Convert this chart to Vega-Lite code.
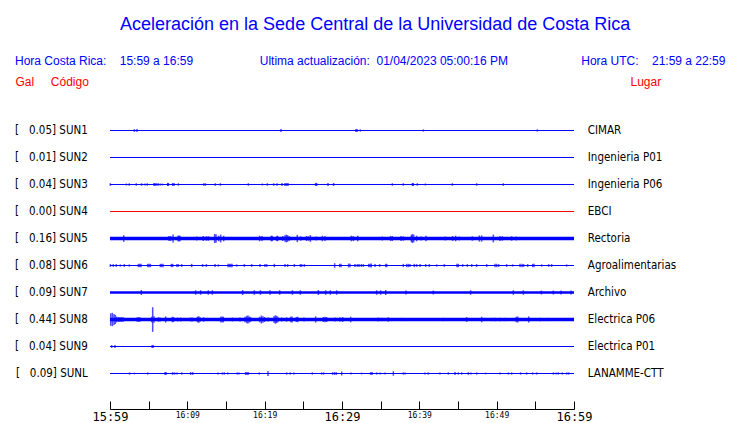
{
  "$schema": "https://vega.github.io/schema/vega-lite/v6.json",
  "width": 464,
  "height": 306,
  "autosize": {"type": "none"},
  "padding": {"left": 110, "top": 103, "right": 166, "bottom": 14},
  "background": "#ffffff",
  "config": {"view": {"stroke": null}},
  "title": {
    "text": "\u200b\u00a0\u00a0\u00a0\u00a0\u00a0\u00a0\u00a0\u00a0\u00a0\u00a0\u00a0\u00a0\u00a0\u00a0\u00a0\u00a0\u00a0\u00a0\u00a0\u00a0\u00a0Aceleración en la Sede Central de la Universidad de Costa Rica",
    "subtitle": "Hora Costa Rica:\u00a0\u00a0\u00a0\u00a015:59 a 16:59\u00a0\u00a0\u00a0\u00a0\u00a0\u00a0\u00a0\u00a0\u00a0\u00a0\u00a0\u00a0\u00a0\u00a0\u00a0\u00a0\u00a0\u00a0\u00a0\u00a0Ultima actualización:\u00a0\u00a001/04/2023 05:00:16 PM\u00a0\u00a0\u00a0\u00a0\u00a0\u00a0\u00a0\u00a0\u00a0\u00a0\u00a0\u00a0\u00a0\u00a0\u00a0\u00a0\u00a0\u00a0\u00a0\u00a0\u00a0\u00a0Hora UTC:\u00a0\u00a0\u00a0\u00a021:59 a 22:59",
    "anchor": "start",
    "frame": "group",
    "dx": -95,
    "offset": 8,
    "font": "Liberation Sans",
    "fontSize": 18,
    "fontWeight": "normal",
    "color": "#0000ff",
    "subtitleFont": "Liberation Sans",
    "subtitleFontSize": 12,
    "subtitleColor": "#0000ff",
    "subtitlePadding": 22
  },
  "datasets": {
    "stations": [
      {"code": "SUN1", "row": 1, "peak": 0.05, "place": "CIMAR", "noise": 0, "status": "activa"},
      {"code": "SUN2", "row": 2, "peak": 0.01, "place": "Ingenieria P01", "noise": 0, "status": "activa"},
      {"code": "SUN3", "row": 3, "peak": 0.04, "place": "Ingenieria P06", "noise": 0, "status": "activa"},
      {"code": "SUN4", "row": 4, "peak": 0.00, "place": "EBCI", "noise": 0, "status": "sin datos"},
      {"code": "SUN5", "row": 5, "peak": 0.16, "place": "Rectoria", "noise": 0.053, "status": "activa"},
      {"code": "SUN6", "row": 6, "peak": 0.08, "place": "Agroalimentarias", "noise": 0.004, "status": "activa"},
      {"code": "SUN7", "row": 7, "peak": 0.09, "place": "Archivo", "noise": 0.036, "status": "activa"},
      {"code": "SUN8", "row": 8, "peak": 0.44, "place": "Electrica P06", "noise": 0.06, "status": "activa"},
      {"code": "SUN9", "row": 9, "peak": 0.04, "place": "Electrica P01", "noise": 0, "status": "activa"},
      {"code": "SUNL", "row": 10, "peak": 0.09, "place": "LANAMME-CTT", "noise": 0, "status": "activa"}
    ],
    "spikes": [
      {"s": "SUN1", "t": 3.15, "a": 0.05}, {"s": "SUN1", "t": 3.49, "a": 0.05}, {"s": "SUN1", "t": 22.11, "a": 0.05},
      {"s": "SUN1", "t": 31.8, "a": 0.05}, {"s": "SUN1", "t": 31.95, "a": 0.05}, {"s": "SUN1", "t": 32.37, "a": 0.04},
      {"s": "SUN1", "t": 40.52, "a": 0.04}, {"s": "SUN1", "t": 55.26, "a": 0.04},

      {"s": "SUN3", "t": 0.04, "a": 0.045}, {"s": "SUN3", "t": 2.11, "a": 0.035}, {"s": "SUN3", "t": 2.5, "a": 0.045},
      {"s": "SUN3", "t": 3.4, "a": 0.045}, {"s": "SUN3", "t": 4.09, "a": 0.045}, {"s": "SUN3", "t": 4.53, "a": 0.035},
      {"s": "SUN3", "t": 4.83, "a": 0.045}, {"s": "SUN3", "t": 5.69, "a": 0.055}, {"s": "SUN3", "t": 5.82, "a": 0.055},
      {"s": "SUN3", "t": 6.03, "a": 0.045}, {"s": "SUN3", "t": 6.25, "a": 0.045}, {"s": "SUN3", "t": 6.51, "a": 0.035},
      {"s": "SUN3", "t": 6.77, "a": 0.035}, {"s": "SUN3", "t": 7.46, "a": 0.055}, {"s": "SUN3", "t": 7.54, "a": 0.055},
      {"s": "SUN3", "t": 8.1, "a": 0.055}, {"s": "SUN3", "t": 8.28, "a": 0.055}, {"s": "SUN3", "t": 8.84, "a": 0.045},
      {"s": "SUN3", "t": 12.11, "a": 0.045}, {"s": "SUN3", "t": 12.33, "a": 0.045}, {"s": "SUN3", "t": 13.62, "a": 0.045},
      {"s": "SUN3", "t": 14.27, "a": 0.045}, {"s": "SUN3", "t": 17.89, "a": 0.045}, {"s": "SUN3", "t": 19.7, "a": 0.035},
      {"s": "SUN3", "t": 20.35, "a": 0.045}, {"s": "SUN3", "t": 21.16, "a": 0.045}, {"s": "SUN3", "t": 21.59, "a": 0.045},
      {"s": "SUN3", "t": 22.24, "a": 0.055}, {"s": "SUN3", "t": 22.63, "a": 0.055}, {"s": "SUN3", "t": 22.84, "a": 0.055},
      {"s": "SUN3", "t": 23.02, "a": 0.055}, {"s": "SUN3", "t": 26.6, "a": 0.055}, {"s": "SUN3", "t": 26.72, "a": 0.055},
      {"s": "SUN3", "t": 28.19, "a": 0.055}, {"s": "SUN3", "t": 28.92, "a": 0.055}, {"s": "SUN3", "t": 36.51, "a": 0.045},
      {"s": "SUN3", "t": 37.93, "a": 0.045}, {"s": "SUN3", "t": 39.1, "a": 0.055}, {"s": "SUN3", "t": 39.22, "a": 0.055},
      {"s": "SUN3", "t": 39.74, "a": 0.045}, {"s": "SUN3", "t": 40.78, "a": 0.035}, {"s": "SUN3", "t": 44.27, "a": 0.045},
      {"s": "SUN3", "t": 47.41, "a": 0.045}, {"s": "SUN3", "t": 50.86, "a": 0.045},

      {"s": "SUN5", "t": 1.77, "a": 0.12}, {"s": "SUN5", "t": 7.63, "a": 0.09}, {"s": "SUN5", "t": 7.84, "a": 0.09},
      {"s": "SUN5", "t": 8.15, "a": 0.14}, {"s": "SUN5", "t": 8.79, "a": 0.1}, {"s": "SUN5", "t": 8.92, "a": 0.11},
      {"s": "SUN5", "t": 9.05, "a": 0.1}, {"s": "SUN5", "t": 11.21, "a": 0.07}, {"s": "SUN5", "t": 12.07, "a": 0.09},
      {"s": "SUN5", "t": 12.46, "a": 0.08}, {"s": "SUN5", "t": 12.72, "a": 0.08}, {"s": "SUN5", "t": 13.53, "a": 0.16},
      {"s": "SUN5", "t": 13.71, "a": 0.15}, {"s": "SUN5", "t": 14.05, "a": 0.1}, {"s": "SUN5", "t": 14.31, "a": 0.14},
      {"s": "SUN5", "t": 14.7, "a": 0.1}, {"s": "SUN5", "t": 19.35, "a": 0.1}, {"s": "SUN5", "t": 19.65, "a": 0.09},
      {"s": "SUN5", "t": 20.85, "a": 0.1}, {"s": "SUN5", "t": 20.98, "a": 0.1}, {"s": "SUN5", "t": 21.55, "a": 0.09},
      {"s": "SUN5", "t": 21.68, "a": 0.1}, {"s": "SUN5", "t": 22.33, "a": 0.09}, {"s": "SUN5", "t": 22.63, "a": 0.12},
      {"s": "SUN5", "t": 22.8, "a": 0.14}, {"s": "SUN5", "t": 22.97, "a": 0.12}, {"s": "SUN5", "t": 23.19, "a": 0.09},
      {"s": "SUN5", "t": 24.22, "a": 0.13}, {"s": "SUN5", "t": 24.65, "a": 0.08}, {"s": "SUN5", "t": 25.43, "a": 0.09},
      {"s": "SUN5", "t": 25.69, "a": 0.08}, {"s": "SUN5", "t": 25.91, "a": 0.12}, {"s": "SUN5", "t": 26.68, "a": 0.07},
      {"s": "SUN5", "t": 27.46, "a": 0.1}, {"s": "SUN5", "t": 27.8, "a": 0.09}, {"s": "SUN5", "t": 31.21, "a": 0.1},
      {"s": "SUN5", "t": 31.47, "a": 0.09}, {"s": "SUN5", "t": 32.03, "a": 0.1}, {"s": "SUN5", "t": 35.21, "a": 0.07},
      {"s": "SUN5", "t": 36.29, "a": 0.09}, {"s": "SUN5", "t": 36.51, "a": 0.09}, {"s": "SUN5", "t": 37.63, "a": 0.09},
      {"s": "SUN5", "t": 37.93, "a": 0.08}, {"s": "SUN5", "t": 38.96, "a": 0.12}, {"s": "SUN5", "t": 39.09, "a": 0.16},
      {"s": "SUN5", "t": 39.27, "a": 0.14}, {"s": "SUN5", "t": 39.65, "a": 0.1}, {"s": "SUN5", "t": 40.22, "a": 0.07},
      {"s": "SUN5", "t": 40.86, "a": 0.1}, {"s": "SUN5", "t": 43.36, "a": 0.07}, {"s": "SUN5", "t": 44.31, "a": 0.09},
      {"s": "SUN5", "t": 44.7, "a": 0.1}, {"s": "SUN5", "t": 45.17, "a": 0.07}, {"s": "SUN5", "t": 46.85, "a": 0.08},
      {"s": "SUN5", "t": 47.76, "a": 0.11}, {"s": "SUN5", "t": 48.06, "a": 0.11}, {"s": "SUN5", "t": 49.57, "a": 0.14},
      {"s": "SUN5", "t": 50.43, "a": 0.09}, {"s": "SUN5", "t": 50.73, "a": 0.08}, {"s": "SUN5", "t": 51.94, "a": 0.08},
      {"s": "SUN5", "t": 52.54, "a": 0.07},

      {"s": "SUN6", "t": 0.04, "a": 0.05}, {"s": "SUN6", "t": 0.43, "a": 0.05}, {"s": "SUN6", "t": 0.82, "a": 0.05},
      {"s": "SUN6", "t": 1.34, "a": 0.04}, {"s": "SUN6", "t": 1.85, "a": 0.05}, {"s": "SUN6", "t": 2.5, "a": 0.04},
      {"s": "SUN6", "t": 3.66, "a": 0.06}, {"s": "SUN6", "t": 3.84, "a": 0.06}, {"s": "SUN6", "t": 4.01, "a": 0.06},
      {"s": "SUN6", "t": 4.87, "a": 0.06}, {"s": "SUN6", "t": 5.04, "a": 0.06}, {"s": "SUN6", "t": 5.22, "a": 0.06},
      {"s": "SUN6", "t": 6.51, "a": 0.06}, {"s": "SUN6", "t": 6.68, "a": 0.06}, {"s": "SUN6", "t": 6.85, "a": 0.06},
      {"s": "SUN6", "t": 7.93, "a": 0.06}, {"s": "SUN6", "t": 8.1, "a": 0.06}, {"s": "SUN6", "t": 8.66, "a": 0.05},
      {"s": "SUN6", "t": 8.84, "a": 0.05}, {"s": "SUN6", "t": 9.27, "a": 0.05}, {"s": "SUN6", "t": 10.56, "a": 0.06},
      {"s": "SUN6", "t": 11.98, "a": 0.05}, {"s": "SUN6", "t": 12.46, "a": 0.05}, {"s": "SUN6", "t": 13.58, "a": 0.05},
      {"s": "SUN6", "t": 14.01, "a": 0.04}, {"s": "SUN6", "t": 15.26, "a": 0.06}, {"s": "SUN6", "t": 15.43, "a": 0.06},
      {"s": "SUN6", "t": 15.6, "a": 0.06}, {"s": "SUN6", "t": 15.78, "a": 0.06}, {"s": "SUN6", "t": 16.38, "a": 0.04},
      {"s": "SUN6", "t": 17.37, "a": 0.05}, {"s": "SUN6", "t": 18.32, "a": 0.05}, {"s": "SUN6", "t": 19.4, "a": 0.05},
      {"s": "SUN6", "t": 20.04, "a": 0.05}, {"s": "SUN6", "t": 20.26, "a": 0.05}, {"s": "SUN6", "t": 21.25, "a": 0.06},
      {"s": "SUN6", "t": 22.63, "a": 0.05}, {"s": "SUN6", "t": 22.97, "a": 0.05}, {"s": "SUN6", "t": 23.84, "a": 0.05},
      {"s": "SUN6", "t": 24.61, "a": 0.05}, {"s": "SUN6", "t": 24.78, "a": 0.05}, {"s": "SUN6", "t": 25.13, "a": 0.05},
      {"s": "SUN6", "t": 29.05, "a": 0.08}, {"s": "SUN6", "t": 29.7, "a": 0.06}, {"s": "SUN6", "t": 29.87, "a": 0.06},
      {"s": "SUN6", "t": 30.86, "a": 0.07}, {"s": "SUN6", "t": 31.03, "a": 0.06}, {"s": "SUN6", "t": 31.68, "a": 0.05},
      {"s": "SUN6", "t": 31.98, "a": 0.05}, {"s": "SUN6", "t": 32.2, "a": 0.05}, {"s": "SUN6", "t": 32.5, "a": 0.05},
      {"s": "SUN6", "t": 32.76, "a": 0.05}, {"s": "SUN6", "t": 33.45, "a": 0.06}, {"s": "SUN6", "t": 33.62, "a": 0.06},
      {"s": "SUN6", "t": 33.79, "a": 0.07}, {"s": "SUN6", "t": 34.27, "a": 0.05}, {"s": "SUN6", "t": 34.87, "a": 0.05},
      {"s": "SUN6", "t": 35.65, "a": 0.06}, {"s": "SUN6", "t": 35.78, "a": 0.06}, {"s": "SUN6", "t": 37.93, "a": 0.06},
      {"s": "SUN6", "t": 38.36, "a": 0.06}, {"s": "SUN6", "t": 38.58, "a": 0.06}, {"s": "SUN6", "t": 38.79, "a": 0.05},
      {"s": "SUN6", "t": 39.35, "a": 0.06}, {"s": "SUN6", "t": 39.65, "a": 0.05}, {"s": "SUN6", "t": 40.09, "a": 0.05},
      {"s": "SUN6", "t": 40.82, "a": 0.05}, {"s": "SUN6", "t": 41.29, "a": 0.05}, {"s": "SUN6", "t": 42.24, "a": 0.04},
      {"s": "SUN6", "t": 43.23, "a": 0.05}, {"s": "SUN6", "t": 44.87, "a": 0.06}, {"s": "SUN6", "t": 45.04, "a": 0.06},
      {"s": "SUN6", "t": 45.6, "a": 0.05}, {"s": "SUN6", "t": 46.21, "a": 0.05}, {"s": "SUN6", "t": 46.77, "a": 0.05},
      {"s": "SUN6", "t": 47.41, "a": 0.05}, {"s": "SUN6", "t": 48.71, "a": 0.05}, {"s": "SUN6", "t": 49.78, "a": 0.06},
      {"s": "SUN6", "t": 50.0, "a": 0.06}, {"s": "SUN6", "t": 50.26, "a": 0.05}, {"s": "SUN6", "t": 51.29, "a": 0.05},
      {"s": "SUN6", "t": 52.07, "a": 0.04}, {"s": "SUN6", "t": 53.02, "a": 0.06}, {"s": "SUN6", "t": 53.28, "a": 0.06},
      {"s": "SUN6", "t": 53.49, "a": 0.05}, {"s": "SUN6", "t": 54.01, "a": 0.05}, {"s": "SUN6", "t": 54.65, "a": 0.06},
      {"s": "SUN6", "t": 54.83, "a": 0.06}, {"s": "SUN6", "t": 55.82, "a": 0.04}, {"s": "SUN6", "t": 56.72, "a": 0.05},
      {"s": "SUN6", "t": 57.11, "a": 0.05}, {"s": "SUN6", "t": 59.05, "a": 0.04},

      {"s": "SUN7", "t": 4.05, "a": 0.09}, {"s": "SUN7", "t": 11.08, "a": 0.08}, {"s": "SUN7", "t": 11.72, "a": 0.08},
      {"s": "SUN7", "t": 12.71, "a": 0.08}, {"s": "SUN7", "t": 13.23, "a": 0.08}, {"s": "SUN7", "t": 17.15, "a": 0.09},
      {"s": "SUN7", "t": 18.66, "a": 0.08}, {"s": "SUN7", "t": 19.44, "a": 0.08}, {"s": "SUN7", "t": 20.69, "a": 0.08},
      {"s": "SUN7", "t": 21.94, "a": 0.08}, {"s": "SUN7", "t": 23.58, "a": 0.08}, {"s": "SUN7", "t": 24.61, "a": 0.08},
      {"s": "SUN7", "t": 26.94, "a": 0.09}, {"s": "SUN7", "t": 27.89, "a": 0.08}, {"s": "SUN7", "t": 28.49, "a": 0.08},
      {"s": "SUN7", "t": 29.31, "a": 0.08}, {"s": "SUN7", "t": 34.48, "a": 0.08}, {"s": "SUN7", "t": 35.0, "a": 0.08},
      {"s": "SUN7", "t": 35.65, "a": 0.09}, {"s": "SUN7", "t": 38.27, "a": 0.07}, {"s": "SUN7", "t": 41.81, "a": 0.07},
      {"s": "SUN7", "t": 46.64, "a": 0.08}, {"s": "SUN7", "t": 52.15, "a": 0.08}, {"s": "SUN7", "t": 53.45, "a": 0.08},
      {"s": "SUN7", "t": 55.78, "a": 0.07}, {"s": "SUN7", "t": 57.33, "a": 0.07}, {"s": "SUN7", "t": 58.32, "a": 0.07},
      {"s": "SUN7", "t": 59.61, "a": 0.07},

      {"s": "SUN8", "t": 0.09, "a": 0.22}, {"s": "SUN8", "t": 0.3, "a": 0.24}, {"s": "SUN8", "t": 0.52, "a": 0.2},
      {"s": "SUN8", "t": 0.69, "a": 0.16}, {"s": "SUN8", "t": 0.86, "a": 0.1}, {"s": "SUN8", "t": 1.08, "a": 0.09},
      {"s": "SUN8", "t": 1.29, "a": 0.09}, {"s": "SUN8", "t": 1.51, "a": 0.09}, {"s": "SUN8", "t": 1.72, "a": 0.08},
      {"s": "SUN8", "t": 3.53, "a": 0.08}, {"s": "SUN8", "t": 3.71, "a": 0.08}, {"s": "SUN8", "t": 3.88, "a": 0.08},
      {"s": "SUN8", "t": 5.39, "a": 0.1}, {"s": "SUN8", "t": 5.52, "a": 0.44}, {"s": "SUN8", "t": 5.69, "a": 0.12},
      {"s": "SUN8", "t": 6.25, "a": 0.08}, {"s": "SUN8", "t": 6.47, "a": 0.07}, {"s": "SUN8", "t": 7.2, "a": 0.11},
      {"s": "SUN8", "t": 8.06, "a": 0.1}, {"s": "SUN8", "t": 8.23, "a": 0.09}, {"s": "SUN8", "t": 8.75, "a": 0.07},
      {"s": "SUN8", "t": 9.14, "a": 0.07}, {"s": "SUN8", "t": 10.43, "a": 0.07}, {"s": "SUN8", "t": 10.65, "a": 0.07},
      {"s": "SUN8", "t": 11.29, "a": 0.1}, {"s": "SUN8", "t": 11.47, "a": 0.12}, {"s": "SUN8", "t": 11.64, "a": 0.08},
      {"s": "SUN8", "t": 12.11, "a": 0.08}, {"s": "SUN8", "t": 14.31, "a": 0.1}, {"s": "SUN8", "t": 14.48, "a": 0.11},
      {"s": "SUN8", "t": 14.65, "a": 0.1}, {"s": "SUN8", "t": 15.82, "a": 0.07}, {"s": "SUN8", "t": 16.81, "a": 0.07},
      {"s": "SUN8", "t": 17.46, "a": 0.1}, {"s": "SUN8", "t": 17.67, "a": 0.13}, {"s": "SUN8", "t": 17.84, "a": 0.14},
      {"s": "SUN8", "t": 18.02, "a": 0.11}, {"s": "SUN8", "t": 18.19, "a": 0.08}, {"s": "SUN8", "t": 19.35, "a": 0.1},
      {"s": "SUN8", "t": 19.57, "a": 0.14}, {"s": "SUN8", "t": 19.78, "a": 0.12}, {"s": "SUN8", "t": 20.0, "a": 0.09},
      {"s": "SUN8", "t": 20.47, "a": 0.07}, {"s": "SUN8", "t": 21.21, "a": 0.12}, {"s": "SUN8", "t": 21.38, "a": 0.15},
      {"s": "SUN8", "t": 21.55, "a": 0.13}, {"s": "SUN8", "t": 21.72, "a": 0.1}, {"s": "SUN8", "t": 22.2, "a": 0.07},
      {"s": "SUN8", "t": 22.84, "a": 0.08}, {"s": "SUN8", "t": 23.36, "a": 0.1}, {"s": "SUN8", "t": 23.53, "a": 0.11},
      {"s": "SUN8", "t": 24.09, "a": 0.09}, {"s": "SUN8", "t": 24.27, "a": 0.1}, {"s": "SUN8", "t": 25.09, "a": 0.07},
      {"s": "SUN8", "t": 26.59, "a": 0.11}, {"s": "SUN8", "t": 27.59, "a": 0.09}, {"s": "SUN8", "t": 27.8, "a": 0.1},
      {"s": "SUN8", "t": 28.02, "a": 0.09}, {"s": "SUN8", "t": 29.09, "a": 0.07}, {"s": "SUN8", "t": 29.74, "a": 0.08},
      {"s": "SUN8", "t": 30.09, "a": 0.09}, {"s": "SUN8", "t": 31.12, "a": 0.1}, {"s": "SUN8", "t": 34.7, "a": 0.07},
      {"s": "SUN8", "t": 35.13, "a": 0.06}, {"s": "SUN8", "t": 35.99, "a": 0.08}, {"s": "SUN8", "t": 37.71, "a": 0.06},
      {"s": "SUN8", "t": 43.1, "a": 0.06}, {"s": "SUN8", "t": 46.12, "a": 0.09}, {"s": "SUN8", "t": 48.06, "a": 0.1},
      {"s": "SUN8", "t": 49.35, "a": 0.06}, {"s": "SUN8", "t": 49.78, "a": 0.06}, {"s": "SUN8", "t": 50.43, "a": 0.06},
      {"s": "SUN8", "t": 51.12, "a": 0.06}, {"s": "SUN8", "t": 52.54, "a": 0.1}, {"s": "SUN8", "t": 52.72, "a": 0.11},
      {"s": "SUN8", "t": 54.14, "a": 0.11}, {"s": "SUN8", "t": 55.6, "a": 0.06}, {"s": "SUN8", "t": 56.68, "a": 0.06},

      {"s": "SUN9", "t": 0.22, "a": 0.05}, {"s": "SUN9", "t": 0.65, "a": 0.05}, {"s": "SUN9", "t": 5.45, "a": 0.05},
      {"s": "SUN9", "t": 5.58, "a": 0.05},

      {"s": "SUNL", "t": 2.54, "a": 0.04}, {"s": "SUNL", "t": 3.15, "a": 0.03}, {"s": "SUNL", "t": 4.87, "a": 0.04},
      {"s": "SUNL", "t": 7.11, "a": 0.05}, {"s": "SUNL", "t": 7.24, "a": 0.05}, {"s": "SUNL", "t": 8.1, "a": 0.05},
      {"s": "SUNL", "t": 8.36, "a": 0.04}, {"s": "SUNL", "t": 8.66, "a": 0.04}, {"s": "SUNL", "t": 9.27, "a": 0.04},
      {"s": "SUNL", "t": 10.43, "a": 0.05}, {"s": "SUNL", "t": 10.69, "a": 0.05}, {"s": "SUNL", "t": 13.97, "a": 0.04},
      {"s": "SUNL", "t": 14.53, "a": 0.04}, {"s": "SUNL", "t": 14.78, "a": 0.04}, {"s": "SUNL", "t": 15.22, "a": 0.04},
      {"s": "SUNL", "t": 16.46, "a": 0.04}, {"s": "SUNL", "t": 16.68, "a": 0.04}, {"s": "SUNL", "t": 17.54, "a": 0.05},
      {"s": "SUNL", "t": 17.72, "a": 0.05}, {"s": "SUNL", "t": 17.89, "a": 0.05}, {"s": "SUNL", "t": 19.31, "a": 0.04},
      {"s": "SUNL", "t": 20.43, "a": 0.09}, {"s": "SUNL", "t": 22.84, "a": 0.04}, {"s": "SUNL", "t": 23.32, "a": 0.04},
      {"s": "SUNL", "t": 23.79, "a": 0.04}, {"s": "SUNL", "t": 26.16, "a": 0.04}, {"s": "SUNL", "t": 27.37, "a": 0.04},
      {"s": "SUNL", "t": 27.63, "a": 0.04}, {"s": "SUNL", "t": 28.79, "a": 0.05}, {"s": "SUNL", "t": 29.05, "a": 0.05},
      {"s": "SUNL", "t": 29.27, "a": 0.05}, {"s": "SUNL", "t": 29.96, "a": 0.07}, {"s": "SUNL", "t": 31.16, "a": 0.04},
      {"s": "SUNL", "t": 32.54, "a": 0.03}, {"s": "SUNL", "t": 33.71, "a": 0.05}, {"s": "SUNL", "t": 33.88, "a": 0.05},
      {"s": "SUNL", "t": 34.48, "a": 0.04}, {"s": "SUNL", "t": 34.91, "a": 0.04}, {"s": "SUNL", "t": 35.56, "a": 0.04},
      {"s": "SUNL", "t": 36.64, "a": 0.08}, {"s": "SUNL", "t": 37.93, "a": 0.04}, {"s": "SUNL", "t": 38.15, "a": 0.04},
      {"s": "SUNL", "t": 40.73, "a": 0.04}, {"s": "SUNL", "t": 41.16, "a": 0.04}, {"s": "SUNL", "t": 42.67, "a": 0.04},
      {"s": "SUNL", "t": 43.75, "a": 0.04}, {"s": "SUNL", "t": 44.61, "a": 0.05}, {"s": "SUNL", "t": 45.04, "a": 0.04},
      {"s": "SUNL", "t": 45.47, "a": 0.04}, {"s": "SUNL", "t": 46.34, "a": 0.05}, {"s": "SUNL", "t": 46.68, "a": 0.04},
      {"s": "SUNL", "t": 47.41, "a": 0.04}, {"s": "SUNL", "t": 48.58, "a": 0.03}, {"s": "SUNL", "t": 50.43, "a": 0.04},
      {"s": "SUNL", "t": 51.51, "a": 0.04}, {"s": "SUNL", "t": 51.94, "a": 0.04}, {"s": "SUNL", "t": 53.1, "a": 0.04},
      {"s": "SUNL", "t": 53.88, "a": 0.04}, {"s": "SUNL", "t": 54.65, "a": 0.04}, {"s": "SUNL", "t": 55.17, "a": 0.04},
      {"s": "SUNL", "t": 57.33, "a": 0.04}, {"s": "SUNL", "t": 57.67, "a": 0.04}, {"s": "SUNL", "t": 57.97, "a": 0.04},
      {"s": "SUNL", "t": 58.49, "a": 0.04}, {"s": "SUNL", "t": 59.05, "a": 0.04}, {"s": "SUNL", "t": 59.31, "a": 0.04}
    ]
  },
  "layer": [
    {
      "data": {"name": "stations"},
      "mark": {"type": "rule", "strokeCap": "butt"},
      "encoding": {
        "x": {
          "datum": 0,
          "type": "quantitative",
          "scale": {"domain": [0, 60], "nice": false, "zero": false},
          "axis": {
            "title": null,
            "values": [0, 5, 10, 15, 20, 25, 30, 35, 40, 45, 50, 55, 60],
            "labelExpr": "datum.value % 10 ? '' : floor((959 + datum.value) / 60) + ':' + ((959 + datum.value) % 60 < 10 ? '0' : '') + ((959 + datum.value) % 60)",
            "labelFont": "DejaVu Sans Mono",
            "labelFontSize": {"condition": {"test": "datum.value % 30 === 0", "value": 12}, "value": 8},
            "labelColor": "#000000",
            "labelOverlap": false,
            "labelFlush": false,
            "labelBaseline": "top",
            "labelPadding": 10,
            "tickSize": -8,
            "tickColor": "#000000",
            "tickWidth": 1,
            "domainColor": "#000000",
            "domainWidth": 1,
            "grid": false
          }
        },
        "x2": {"datum": 60},
        "y": {
          "field": "row",
          "type": "quantitative",
          "scale": {"domain": [-0.0185, 11.3148], "reverse": true, "nice": false, "zero": false},
          "axis": {
            "orient": "left",
            "values": [1, 2, 3, 4, 5, 6, 7, 8, 9, 10],
            "labelExpr": "['', '[\u00a0\u00a0\u00a00.05] SUN1', '[\u00a0\u00a0\u00a00.01] SUN2', '[\u00a0\u00a0\u00a00.04] SUN3', '[\u00a0\u00a0\u00a00.00] SUN4', '[\u00a0\u00a0\u00a00.16] SUN5', '[\u00a0\u00a0\u00a00.08] SUN6', '[\u00a0\u00a0\u00a00.09] SUN7', '[\u00a0\u00a0\u00a00.44] SUN8', '[\u00a0\u00a0\u00a00.04] SUN9', '[\u00a0\u00a0\u00a00.09] SUNL'][datum.value]",
            "domain": false,
            "ticks": false,
            "grid": false,
            "labelPadding": 22.7,
            "labelFont": "DejaVu Sans Condensed",
            "labelFontSize": 11.5,
            "labelColor": "#000000",
            "labelBaseline": "middle",
            "labelOverlap": false,
            "title": "Gal\u00a0\u00a0\u00a0\u00a0\u00a0Código",
            "titleAngle": 0,
            "titleX": -95,
            "titleY": -18,
            "titleAlign": "left",
            "titleBaseline": "alphabetic",
            "titleFont": "Liberation Sans",
            "titleFontSize": 12,
            "titleFontWeight": "normal",
            "titleColor": "#ff0000"
          }
        },
        "color": {
          "field": "status",
          "type": "nominal",
          "scale": {"domain": ["activa", "sin datos"], "range": ["#0000ff", "#ff0000"]},
          "legend": null
        },
        "strokeWidth": {
          "field": "noise",
          "type": "quantitative",
          "scale": {"domain": [0, 0.06], "range": [1, 3.6]},
          "legend": null
        }
      }
    },
    {
      "data": {"name": "spikes"},
      "transform": [
        {"lookup": "s", "from": {"data": {"name": "stations"}, "key": "code", "fields": ["row"]}}
      ],
      "mark": {"type": "tick", "orient": "vertical", "thickness": 1.5, "color": "#0000ff"},
      "encoding": {
        "x": {
          "field": "t",
          "type": "quantitative",
          "scale": {"domain": [0, 60], "nice": false, "zero": false},
          "axis": {
            "title": null,
            "values": [0, 5, 10, 15, 20, 25, 30, 35, 40, 45, 50, 55, 60],
            "labelExpr": "datum.value % 10 ? '' : floor((959 + datum.value) / 60) + ':' + ((959 + datum.value) % 60 < 10 ? '0' : '') + ((959 + datum.value) % 60)",
            "labelFont": "DejaVu Sans Mono",
            "labelFontSize": {"condition": {"test": "datum.value % 30 === 0", "value": 12}, "value": 8},
            "labelColor": "#000000",
            "labelOverlap": false,
            "labelFlush": false,
            "labelBaseline": "top",
            "labelPadding": 10,
            "tickSize": -8,
            "tickColor": "#000000",
            "tickWidth": 1,
            "domainColor": "#000000",
            "domainWidth": 1,
            "grid": false
          }
        },
        "y": {
          "field": "row",
          "type": "quantitative",
          "scale": {"domain": [-0.0185, 11.3148], "reverse": true, "nice": false, "zero": false},
          "axis": {
            "orient": "right",
            "values": [1, 2, 3, 4, 5, 6, 7, 8, 9, 10],
            "labelExpr": "['', 'CIMAR', 'Ingenieria P01', 'Ingenieria P06', 'EBCI', 'Rectoria', 'Agroalimentarias', 'Archivo', 'Electrica P06', 'Electrica P01', 'LANAMME-CTT'][datum.value]",
            "domain": false,
            "ticks": false,
            "grid": false,
            "labelPadding": 13.3,
            "labelFont": "DejaVu Sans Condensed",
            "labelFontSize": 11.5,
            "labelColor": "#000000",
            "labelBaseline": "middle",
            "labelOverlap": false,
            "title": "Lugar",
            "titleAngle": 0,
            "titleX": 56,
            "titleY": -18,
            "titleAlign": "left",
            "titleBaseline": "alphabetic",
            "titleFont": "Liberation Sans",
            "titleFontSize": 12,
            "titleFontWeight": "normal",
            "titleColor": "#ff0000"
          }
        },
        "size": {
          "field": "a",
          "type": "quantitative",
          "scale": {"domain": [0, 1], "range": [0, 56]},
          "legend": null
        }
      }
    }
  ],
  "resolve": {"axis": {"y": "independent"}}
}
